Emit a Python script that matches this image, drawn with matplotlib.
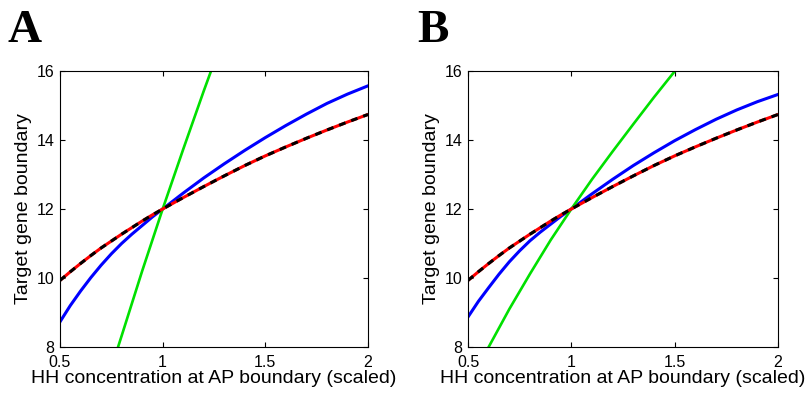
import numpy as np
import matplotlib
matplotlib.use("Agg")
import matplotlib.pyplot as plt

# HH concentration (scaled) sample points
x = [0.5, 0.55, 0.6, 0.65, 0.7, 0.75, 0.8, 0.85, 0.9, 0.95, 1.0,
     1.1, 1.2, 1.3, 1.4, 1.5, 1.6, 1.7, 1.8, 1.9, 2.0]

# red / black-dashed reference curve (identical in both panels)
red_y = [9.93, 10.18, 10.42, 10.65, 10.87, 11.07, 11.27, 11.46, 11.65, 11.83, 12.00,
         12.33, 12.65, 12.96, 13.26, 13.54, 13.80, 14.05, 14.29, 14.52, 14.74]

# blue curves
blue_a = [8.73, 9.20, 9.62, 10.01, 10.37, 10.70, 11.00, 11.27, 11.52, 11.77, 12.00,
          12.46, 12.90, 13.31, 13.70, 14.07, 14.42, 14.75, 15.06, 15.33, 15.57]
blue_b = [8.87, 9.32, 9.72, 10.11, 10.47, 10.79, 11.08, 11.33, 11.56, 11.79, 12.00,
          12.44, 12.86, 13.26, 13.63, 13.98, 14.30, 14.60, 14.87, 15.11, 15.32]

# green curves (only the part inside the axes is visible)
green_a_x = [0.78, 0.8, 0.9, 1.0, 1.1, 1.2, 1.3]
green_a_y = [7.95, 8.32, 10.20, 12.00, 13.73, 15.42, 17.05]
green_b_x = [0.6, 0.7, 0.8, 0.9, 1.0, 1.1, 1.2, 1.3, 1.4, 1.5, 1.6]
green_b_y = [8.00, 9.10, 10.12, 11.10, 12.00, 12.86, 13.67, 14.46, 15.24, 15.99, 16.74]

xticks = [0.5, 1, 1.5, 2]
xticklabels = ["0.5", "1", "1.5", "2"]
yticks = [8, 10, 12, 14, 16]

plt.rcParams['font.family'] = ['Liberation Sans', 'DejaVu Sans']

fig = plt.figure(figsize=(8.06, 3.96), dpi=100)
ax_a = fig.add_axes([60 / 806, 1 - 347 / 396, 308 / 806, 276 / 396])
ax_b = fig.add_axes([468 / 806, 1 - 347 / 396, 310 / 806, 276 / 396])

panels = [
    (ax_a, blue_a, green_a_x, green_a_y, "A", 8),
    (ax_b, blue_b, green_b_x, green_b_y, "B", 417),
]

for ax, blue, gx, gy, letter, lx in panels:
    ax.plot(x, blue, color='#0000ff', linewidth=2.2)
    ax.plot(gx, gy, color='#00e000', linewidth=1.9)
    ax.plot(x, red_y, color='#ff0000', linewidth=2.2)
    ax.plot(x, red_y, color='black', linewidth=2.2, linestyle=(0, (2.2, 2.0)))

    ax.set_xlim(0.5, 2)
    ax.set_ylim(8, 16)
    ax.set_xticks(xticks)
    ax.set_xticklabels(xticklabels)
    ax.set_yticks(yticks)
    ax.tick_params(direction='in', length=3.5, width=0.8, labelsize=11.5,
                   top=True, right=True, pad=4)
    ax.tick_params(axis='x', pad=6)
    for sp in ax.spines.values():
        sp.set_linewidth(0.8)

    ax.set_xlabel("HH concentration at AP boundary (scaled)", fontsize=14, labelpad=0)
    ax.set_ylabel("Target gene boundary", fontsize=14, labelpad=3)

    fig.text(lx / 806, 1 - 42 / 396, letter, family=['Liberation Serif'],
             fontweight='bold', fontsize=34, ha='left', va='baseline')

fig.savefig("out.png", dpi=100)
